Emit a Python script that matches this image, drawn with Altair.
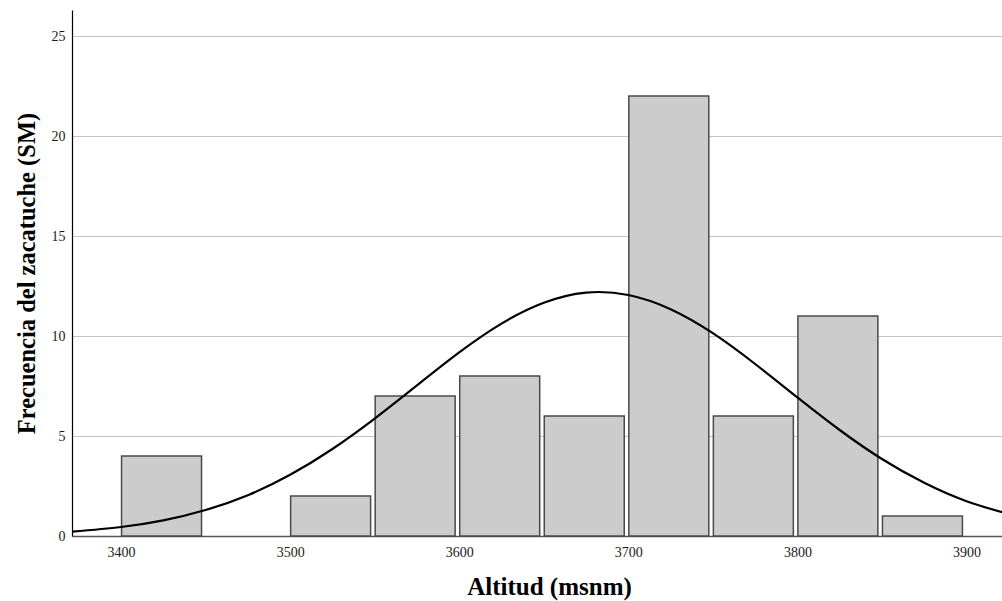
import altair as alt
import pandas as pd

bin_start = [3400, 3450, 3500, 3550, 3600, 3650, 3700, 3750, 3800, 3850]
counts = [4, 0, 2, 7, 8, 6, 22, 6, 11, 1]

curve_x = [3370, 3400, 3425, 3450, 3475, 3500, 3525, 3550, 3575, 3600, 3625, 3650,
           3675, 3700, 3725, 3750, 3775, 3800, 3825, 3850, 3875, 3900, 3925]
curve_y = [0.21, 0.45, 0.78, 1.30, 2.04, 3.06, 4.35, 5.87, 7.53, 9.18, 10.62, 11.66,
           12.17, 12.05, 11.34, 10.14, 8.60, 6.93, 5.30, 3.85, 2.66, 1.74, 1.10]

bars = pd.DataFrame({
    "x": [s + 0.3 for s in bin_start],
    "x2": [s + 47.6 for s in bin_start],
    "count": counts,
})
bars = bars[bars["count"] > 0]
curve = pd.DataFrame({"x": curve_x, "y": curve_y})

xscale = alt.Scale(domain=[3371, 3921], nice=False, zero=False)
yscale = alt.Scale(domain=[0, 26.3], nice=False)

font = "Liberation Serif"

bar_layer = alt.Chart(bars).mark_rect(
    fill="#cccccc", stroke="#4a4a4a", strokeWidth=1.5
).encode(
    x=alt.X("x:Q", scale=xscale,
            axis=alt.Axis(title="Altitud (msnm)", values=[3400, 3500, 3600, 3700, 3800, 3900],
                          format="d", grid=False, ticks=False, labelPadding=9, titlePadding=15,
                          titleX=477, titleFontSize=25,
                          domainColor="#555555", domainWidth=1.5)),
    x2="x2:Q",
    y=alt.Y("count:Q", scale=yscale,
            axis=alt.Axis(title="Frecuencia del zacatuche (SM)", values=[0, 5, 10, 15, 20, 25],
                          format="d", grid=True, gridColor="#c4c4c4", gridWidth=1.2, ticks=False,
                          labelPadding=7, titlePadding=12, titleFontSize=24.5,
                          domainColor="#000000", domainWidth=1.2)),
    y2=alt.value(526),
)

line_layer = alt.Chart(curve).mark_line(
    color="#000000", strokeWidth=2.2, interpolate="natural", clip=True
).encode(
    x=alt.X("x:Q", scale=xscale),
    y=alt.Y("y:Q", scale=yscale),
)

chart = alt.layer(bar_layer, line_layer).properties(
    width=930, height=526,
    autosize=alt.AutoSizeParams(type="none"),
    padding={"left": 72, "top": 10, "right": 0, "bottom": 65},
).configure_view(stroke=None).configure_axis(
    labelFont=font, labelFontSize=14, labelColor="#1a1a1a",
    titleFont=font, titleFontWeight="bold", titleColor="#000000",
)

chart.save("out.html", embed_options={"renderer": "svg", "actions": False})
